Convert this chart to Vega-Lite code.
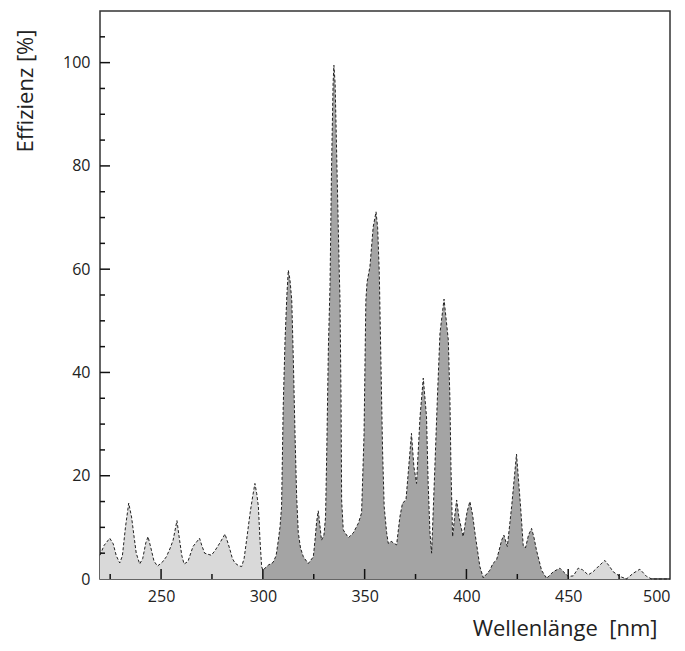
{
 "$schema": "https://vega.github.io/schema/vega-lite/v6.json",
 "width": 570, "height": 568,
 "autosize": {"type": "none"},
 "padding": {"left": 100, "top": 11, "right": 15, "bottom": 72},
 "background": "white",
 "config": {
  "view": {"stroke": "#333", "strokeWidth": 1.5},
  "axis": {"grid": false, "domain": false, "ticks": false, "tickSize": 0,
   "labelFont": "Open Sans", "labelFontSize": 16, "labelColor": "#222",
   "titleFont": "Open Sans", "titleFontSize": 22, "titleFontWeight": "normal", "titleColor": "#222"}
 },
 "datasets": {
  "spec": [
  {"nm":220,"eff":4.6,"seg":"a"},{"nm":222,"eff":6.5,"seg":"a"},{"nm":224.8,"eff":7.9,"seg":"a"},{"nm":226.5,"eff":6.8,"seg":"a"},{"nm":228,"eff":4.5,"seg":"a"},{"nm":229.7,"eff":3.1,"seg":"a"},{"nm":231,"eff":4.5,"seg":"a"},{"nm":232.5,"eff":10,"seg":"a"},{"nm":234.1,"eff":14.7,"seg":"a"},{"nm":235.5,"eff":12,"seg":"a"},{"nm":236.8,"eff":8,"seg":"a"},{"nm":237.8,"eff":5,"seg":"a"},{"nm":239.5,"eff":2.9,"seg":"a"},{"nm":241,"eff":4,"seg":"a"},{"nm":242.5,"eff":7,"seg":"a"},{"nm":243.6,"eff":8.2,"seg":"a"},{"nm":245,"eff":6,"seg":"a"},{"nm":246.5,"eff":3.5,"seg":"a"},{"nm":248.2,"eff":2.5,"seg":"a"},{"nm":250.5,"eff":3.2,"seg":"a"},{"nm":252.6,"eff":4.3,"seg":"a"},{"nm":254.5,"eff":6,"seg":"a"},{"nm":255.9,"eff":7.5,"seg":"a"},{"nm":257.8,"eff":11.3,"seg":"a"},{"nm":259.1,"eff":7.5,"seg":"a"},{"nm":260.2,"eff":4.5,"seg":"a"},{"nm":261.3,"eff":2.9,"seg":"a"},{"nm":263.2,"eff":3.4,"seg":"a"},{"nm":265.7,"eff":6.3,"seg":"a"},{"nm":267.5,"eff":7.2,"seg":"a"},{"nm":268.9,"eff":7.9,"seg":"a"},{"nm":270,"eff":6.5,"seg":"a"},{"nm":271.4,"eff":5,"seg":"a"},{"nm":273,"eff":4.8,"seg":"a"},{"nm":274.7,"eff":4.6,"seg":"a"},{"nm":276.5,"eff":5.5,"seg":"a"},{"nm":278.9,"eff":7,"seg":"a"},{"nm":281.4,"eff":8.7,"seg":"a"},{"nm":283,"eff":6.8,"seg":"a"},{"nm":283.9,"eff":5.6,"seg":"a"},{"nm":285,"eff":4,"seg":"a"},{"nm":286.3,"eff":3.1,"seg":"a"},{"nm":288,"eff":2.6,"seg":"a"},{"nm":289.6,"eff":2.4,"seg":"a"},{"nm":290.8,"eff":4,"seg":"a"},{"nm":292,"eff":7.5,"seg":"a"},{"nm":293.7,"eff":12.7,"seg":"a"},{"nm":295,"eff":16,"seg":"a"},{"nm":296.1,"eff":18.5,"seg":"a"},{"nm":297,"eff":16.5,"seg":"a"},{"nm":297.8,"eff":14,"seg":"a"},{"nm":298.6,"eff":7.5,"seg":"a"},{"nm":299.4,"eff":2.4,"seg":"a"},{"nm":300,"eff":1.7,"seg":"a"},
  {"nm":300,"eff":1.7,"seg":"b"},{"nm":302.7,"eff":2.7,"seg":"b"},{"nm":305,"eff":3.2,"seg":"b"},{"nm":306.5,"eff":4.5,"seg":"b"},{"nm":307.6,"eff":7.5,"seg":"b"},{"nm":308.4,"eff":10,"seg":"b"},{"nm":309.2,"eff":14,"seg":"b"},{"nm":310,"eff":33.4,"seg":"b"},{"nm":310.9,"eff":46.3,"seg":"b"},{"nm":311.8,"eff":55,"seg":"b"},{"nm":312.5,"eff":59.8,"seg":"b"},{"nm":313.3,"eff":58,"seg":"b"},{"nm":314.2,"eff":54,"seg":"b"},{"nm":315,"eff":42,"seg":"b"},{"nm":315.8,"eff":28,"seg":"b"},{"nm":316.6,"eff":16,"seg":"b"},{"nm":317.4,"eff":9,"seg":"b"},{"nm":318.5,"eff":6,"seg":"b"},{"nm":319.9,"eff":4.3,"seg":"b"},{"nm":322.3,"eff":3,"seg":"b"},{"nm":324.8,"eff":4.3,"seg":"b"},{"nm":325.6,"eff":7.5,"seg":"b"},{"nm":326.4,"eff":11,"seg":"b"},{"nm":327.2,"eff":13.2,"seg":"b"},{"nm":328,"eff":10.5,"seg":"b"},{"nm":328.8,"eff":7.5,"seg":"b"},{"nm":330,"eff":8.5,"seg":"b"},{"nm":330.8,"eff":12,"seg":"b"},{"nm":331.4,"eff":25,"seg":"b"},{"nm":332.2,"eff":45,"seg":"b"},{"nm":333,"eff":57,"seg":"b"},{"nm":333.7,"eff":78.6,"seg":"b"},{"nm":334.5,"eff":96,"seg":"b"},{"nm":334.9,"eff":99.5,"seg":"b"},{"nm":335.5,"eff":96,"seg":"b"},{"nm":336.5,"eff":78,"seg":"b"},{"nm":337.5,"eff":60,"seg":"b"},{"nm":337.9,"eff":54,"seg":"b"},{"nm":338.4,"eff":35,"seg":"b"},{"nm":338.7,"eff":15.3,"seg":"b"},{"nm":339.5,"eff":9.5,"seg":"b"},{"nm":342,"eff":8,"seg":"b"},{"nm":344.4,"eff":8.9,"seg":"b"},{"nm":346.9,"eff":10.8,"seg":"b"},{"nm":348.5,"eff":12.8,"seg":"b"},{"nm":349.7,"eff":28,"seg":"b"},{"nm":350.6,"eff":54,"seg":"b"},{"nm":351.2,"eff":57.5,"seg":"b"},{"nm":352.6,"eff":60.5,"seg":"b"},{"nm":354.2,"eff":68.2,"seg":"b"},{"nm":355.6,"eff":71.1,"seg":"b"},{"nm":356.4,"eff":68,"seg":"b"},{"nm":357.2,"eff":59.2,"seg":"b"},{"nm":358,"eff":42,"seg":"b"},{"nm":358.8,"eff":25,"seg":"b"},{"nm":359.6,"eff":14,"seg":"b"},{"nm":360.8,"eff":9,"seg":"b"},{"nm":361.6,"eff":6.9,"seg":"b"},{"nm":363,"eff":7.3,"seg":"b"},{"nm":365.7,"eff":6.6,"seg":"b"},{"nm":367.3,"eff":12,"seg":"b"},{"nm":368.6,"eff":14.7,"seg":"b"},{"nm":370.3,"eff":15.3,"seg":"b"},{"nm":371.4,"eff":20.5,"seg":"b"},{"nm":373,"eff":28.2,"seg":"b"},{"nm":374.2,"eff":21.7,"seg":"b"},{"nm":375.5,"eff":18.5,"seg":"b"},{"nm":377.2,"eff":31.4,"seg":"b"},{"nm":378.8,"eff":38.9,"seg":"b"},{"nm":380.4,"eff":31.4,"seg":"b"},{"nm":381.2,"eff":18.5,"seg":"b"},{"nm":382.1,"eff":8.9,"seg":"b"},{"nm":382.9,"eff":5,"seg":"b"},{"nm":384.5,"eff":21.7,"seg":"b"},{"nm":385.7,"eff":34.7,"seg":"b"},{"nm":387,"eff":47.6,"seg":"b"},{"nm":389,"eff":54.2,"seg":"b"},{"nm":391.1,"eff":46.3,"seg":"b"},{"nm":391.9,"eff":34.7,"seg":"b"},{"nm":392.4,"eff":21.7,"seg":"b"},{"nm":393.2,"eff":8.2,"seg":"b"},{"nm":394.2,"eff":12,"seg":"b"},{"nm":395.2,"eff":15.3,"seg":"b"},{"nm":396.3,"eff":12,"seg":"b"},{"nm":398.4,"eff":8.2,"seg":"b"},{"nm":400.3,"eff":13,"seg":"b"},{"nm":401.7,"eff":15,"seg":"b"},{"nm":403,"eff":12.5,"seg":"b"},{"nm":404.2,"eff":8.9,"seg":"b"},{"nm":406.6,"eff":2.4,"seg":"b"},{"nm":408.3,"eff":0.2,"seg":"b"},{"nm":411.5,"eff":1.7,"seg":"b"},{"nm":413,"eff":3,"seg":"b"},{"nm":414.8,"eff":3.7,"seg":"b"},{"nm":416,"eff":5.5,"seg":"b"},{"nm":417.3,"eff":7.5,"seg":"b"},{"nm":418.4,"eff":8.5,"seg":"b"},{"nm":420.1,"eff":6.3,"seg":"b"},{"nm":422.2,"eff":14,"seg":"b"},{"nm":424.6,"eff":24.2,"seg":"b"},{"nm":426.6,"eff":14,"seg":"b"},{"nm":427.9,"eff":6.5,"seg":"b"},{"nm":429,"eff":6,"seg":"b"},{"nm":430.5,"eff":8.5,"seg":"b"},{"nm":432,"eff":9.8,"seg":"b"},{"nm":433.2,"eff":8,"seg":"b"},{"nm":434.4,"eff":5.6,"seg":"b"},{"nm":436.9,"eff":1.7,"seg":"b"},{"nm":439.4,"eff":0.1,"seg":"b"},{"nm":442.6,"eff":1.4,"seg":"b"},{"nm":445.9,"eff":2.1,"seg":"b"},{"nm":449.2,"eff":0.8,"seg":"b"},{"nm":450,"eff":0.5,"seg":"b"},
  {"nm":450,"eff":0.5,"seg":"c"},{"nm":452.5,"eff":0.6,"seg":"c"},{"nm":454.9,"eff":2.1,"seg":"c"},{"nm":457,"eff":1.8,"seg":"c"},{"nm":459.8,"eff":0.8,"seg":"c"},{"nm":462.2,"eff":1.4,"seg":"c"},{"nm":465,"eff":2.5,"seg":"c"},{"nm":468,"eff":3.6,"seg":"c"},{"nm":470,"eff":2.6,"seg":"c"},{"nm":472.1,"eff":1.4,"seg":"c"},{"nm":475.4,"eff":0.5,"seg":"c"},{"nm":478.6,"eff":0,"seg":"c"},{"nm":481.9,"eff":1.1,"seg":"c"},{"nm":485.2,"eff":1.9,"seg":"c"},{"nm":488.5,"eff":0.5,"seg":"c"},{"nm":491,"eff":0,"seg":"c"},{"nm":500,"eff":0,"seg":"c"}
  ],
  "xmajor": [{"v":250},{"v":300},{"v":350},{"v":400},{"v":450}],
  "xminor": [{"v":225},{"v":275},{"v":325},{"v":375},{"v":425},{"v":475}],
  "ymajor": [{"v":20},{"v":40},{"v":60},{"v":80},{"v":100}],
  "yminor": [{"v":5},{"v":10},{"v":15},{"v":25},{"v":30},{"v":35},{"v":45},{"v":50},{"v":55},{"v":65},{"v":70},{"v":75},{"v":85},{"v":90},{"v":95},{"v":105}]
 },
 "layer": [
  {"data": {"name": "spec"},
   "transform": [{"filter": "datum.seg !== 'b'"}],
   "mark": {"type": "area", "fill": "#d9d9d9"},
   "encoding": {
    "x": {"field": "nm", "type": "quantitative",
     "scale": {"domain": [220, 500], "nice": false, "zero": false},
     "axis": {"values": [250,300,350,400,450,500], "labelPadding": 9, "labelOverlap": false,
      "title": "Wellenlänge\u00a0 [nm]", "titleX": 557, "titleY": 56, "titleAlign": "right", "titleBaseline": "alphabetic", "titleAnchor": null}},
    "y": {"field": "eff", "type": "quantitative",
     "scale": {"domain": [0, 110], "nice": false},
     "axis": {"values": [0,20,40,60,80,100], "labelPadding": 10, "labelOverlap": false,
      "title": "Effizienz [%]", "titleX": -68, "titleY": 18, "titleAngle": -90, "titleAlign": "right", "titleBaseline": "alphabetic", "titleAnchor": null}},
    "detail": {"field": "seg"}}},
  {"data": {"name": "spec"},
   "transform": [{"filter": "datum.seg === 'b'"}],
   "mark": {"type": "area", "fill": "#a4a4a4"},
   "encoding": {
    "x": {"field": "nm", "type": "quantitative"},
    "y": {"field": "eff", "type": "quantitative"}}},
  {"data": {"name": "spec"},
   "mark": {"type": "line", "stroke": "#222", "strokeWidth": 1, "strokeDash": [3, 2]},
   "encoding": {
    "x": {"field": "nm", "type": "quantitative"},
    "y": {"field": "eff", "type": "quantitative"}}},
  {"data": {"name": "xmajor"},
   "mark": {"type": "point", "shape": "M0,0L0,-2", "size": 100, "filled": false, "stroke": "#111", "strokeWidth": 1.5, "opacity": 1},
   "encoding": {"x": {"field": "v", "type": "quantitative"}, "y": {"datum": 0}}},
  {"data": {"name": "xminor"},
   "mark": {"type": "point", "shape": "M0,0L0,-2", "size": 25, "filled": false, "stroke": "#111", "strokeWidth": 1.5, "opacity": 1},
   "encoding": {"x": {"field": "v", "type": "quantitative"}, "y": {"datum": 0}}},
  {"data": {"name": "ymajor"},
   "mark": {"type": "point", "shape": "M0,0L2,0", "size": 100, "filled": false, "stroke": "#111", "strokeWidth": 1.5, "opacity": 1},
   "encoding": {"y": {"field": "v", "type": "quantitative"}, "x": {"datum": 220}}},
  {"data": {"name": "yminor"},
   "mark": {"type": "point", "shape": "M0,0L2,0", "size": 25, "filled": false, "stroke": "#111", "strokeWidth": 1.5, "opacity": 1},
   "encoding": {"y": {"field": "v", "type": "quantitative"}, "x": {"datum": 220}}}
 ]
}
